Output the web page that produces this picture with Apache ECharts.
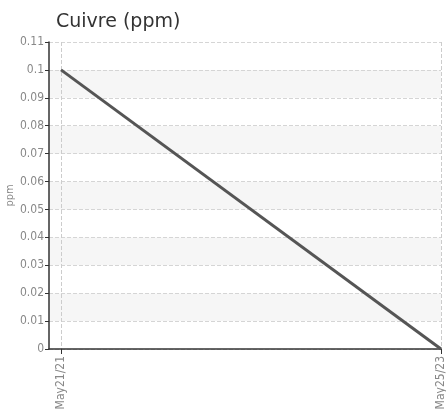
<!DOCTYPE html>
<html>
<head>
<meta charset="utf-8">
<script src="https://cdn.jsdelivr.net/npm/echarts@6/dist/echarts.min.js"></script>
<style>
html, body { margin: 0; padding: 0; background: #fff; }
#chart { width: 446px; height: 412px; }
</style>
</head>
<body>
<div id="chart"></div>
<script>
var dates = ['May21/21', 'May25/23']
var values = [0.1, 0]
var yTicks = { min: 0, max: 0.11, step: 0.01 }

var labelFont = '"DejaVu Sans Condensed", "Liberation Sans Narrow", "Roboto", sans-serif'
var myChart = echarts.init(document.getElementById('chart'))
var points = values.map(function (v, i) { return [i, v] })

var option = {
    animation: false,
    title: {
        text: 'Cuivre (ppm)',
        left: 51,
        top: 8,
        textStyle: { fontFamily: 'DejaVu Sans', fontSize: 19, fontWeight: 'normal', color: '#333' }
    },
    grid: { left: 49, right: 5, top: 42, bottom: 63, containLabel: false, outerBoundsMode: 'none' },
    xAxis: {
        type: 'value',
        min: -0.0316,
        max: 1,
        axisLine: { onZero: false, lineStyle: { color: '#333', width: 1.5 } },
        axisTick: { show: true, length: 5, lineStyle: { color: '#333' }, customValues: [0, 1] },
        axisLabel: {
            customValues: [0, 1],
            rotate: 90,
            margin: 7,
            color: '#888',
            fontFamily: labelFont,
            fontSize: 12,
            formatter: function (v) { return dates[Math.round(v)] }
        },
        splitLine: { show: true, lineStyle: { type: 'dashed', color: '#ccc' } }
    },
    yAxis: {
        type: 'value',
        name: 'ppm',
        nameLocation: 'middle',
        nameGap: 33,
        nameMoveOverlap: false,
        nameTextStyle: { color: '#888', fontFamily: labelFont, fontSize: 11 },
        min: yTicks.min,
        max: yTicks.max,
        interval: yTicks.step,
        axisLine: { show: true, onZero: false, lineStyle: { color: '#333', width: 1.5 } },
        axisTick: { show: true, length: 4, lineStyle: { color: '#333' } },
        axisLabel: { color: '#888', fontFamily: labelFont, fontSize: 12, margin: 5 },
        splitLine: { lineStyle: { type: 'dashed', color: '#d5d5d5' } },
        splitArea: { show: true, areaStyle: { color: ['#ffffff', '#f6f6f6'] } }
    },
    series: [{
        type: 'line',
        data: points,
        showSymbol: false,
        lineStyle: { color: '#555', width: 3 }
    }]
}
myChart.setOption(option)
</script>
</body>
</html>
